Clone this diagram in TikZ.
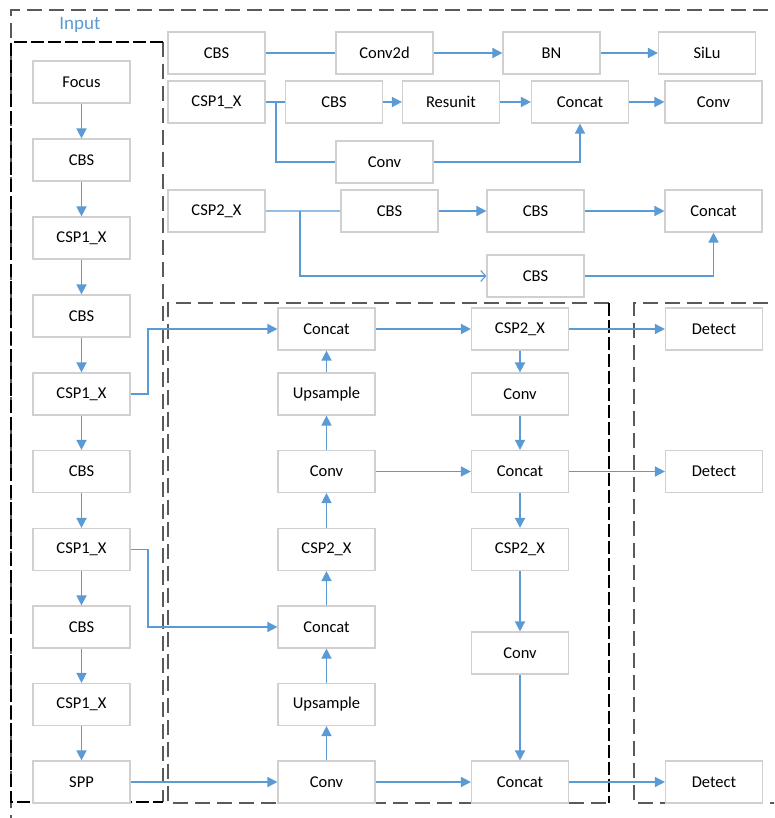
\documentclass[tikz,border=0pt]{standalone}
\usepackage{fontspec}
\setmainfont{Carlito}
\usetikzlibrary{arrows.meta}
\definecolor{ablue}{HTML}{5B9BD5}
\definecolor{bgray}{HTML}{D0D0D0}
\definecolor{fgray}{HTML}{5A5A5A}
\begin{document}
\begin{tikzpicture}[x=1pt,y=-1pt,
 blk/.style={draw=bgray,line width=1.2pt,fill=white,minimum width=97pt,minimum height=42pt,inner sep=0pt,font=\fontsize{16.5}{20}\selectfont},
 arr/.style={draw=ablue,line width=1.6pt,-{Triangle[length=10pt,width=10pt]}},
 ln/.style={draw=ablue,line width=1.6pt},
 lnlight/.style={draw=ablue!65,line width=1.1pt},
 fg/.style={draw=fgray,line width=1.3pt,dash pattern=on 15pt off 7pt},
 fk/.style={draw=black,line width=1.3pt,dash pattern=on 13pt off 4pt}]
\useasboundingbox (0,0) rectangle (774,818);
\clip (0,0) rectangle (774,818);
\fill[white] (0,0) rectangle (774,818);

% frames
\draw[fg] (11,830) -- (11,10) -- (790,10);
\draw[fg] (163,42) -- (163,802);
\draw[fk] (163,42) -- (11,42) -- (11,802) -- (163,802);
\draw[fg] (609,303) -- (168,303) -- (168,803) -- (609,803);
\draw[fk] (609,303) -- (609,803);
\draw[fg] (790,303) -- (634,303) -- (634,803) -- (790,803);

\node[text=ablue,font=\fontsize{19}{22}\selectfont] (inlab) at (80,25) {Input};

% backbone
\node[blk] (L1) at (81.5,82) {Focus};
\node[blk] (L2) at (81.5,160) {CBS};
\node[blk] (L3) at (81.5,238) {CSP1\_X};
\node[blk] (L4) at (81.5,316) {CBS};
\node[blk] (L5) at (81.5,394) {CSP1\_X};
\node[blk] (L6) at (81.5,471.5) {CBS};
\node[blk] (L7) at (81.5,549.5) {CSP1\_X};
\node[blk] (L8) at (81.5,627) {CBS};
\node[blk] (L9) at (81.5,704.5) {CSP1\_X};
\node[blk] (L10) at (81.5,782) {SPP};

% module definitions
\node[blk] (t1cbs) at (216.5,53) {CBS};
\node[blk] (t1conv) at (384.5,53) {Conv2d};
\node[blk] (t1bn) at (551.5,53) {BN};
\node[blk] (t1silu) at (707,53) {SiLu};

\node[blk] (t2csp) at (216.5,102) {CSP1\_X};
\node[blk] (t2cbs) at (334,102) {CBS};
\node[blk] (t2res) at (451,102) {Resunit};
\node[blk] (t2cat) at (580,102) {Concat};
\node[blk] (t2conv) at (713.5,102) {Conv};
\node[blk] (t2c2) at (384.5,162) {Conv};

\node[blk] (t3csp) at (216.5,211) {CSP2\_X};
\node[blk] (t3cbs1) at (389.5,211) {CBS};
\node[blk] (t3cbs2) at (535.5,211) {CBS};
\node[blk] (t3cat) at (713.5,211) {Concat};
\node[blk] (t3cbs3) at (535.5,276) {CBS};

% neck
\node[blk] (A1) at (326.5,329) {Concat};
\node[blk] (A2) at (326.5,394) {Upsample};
\node[blk] (A3) at (326.5,471.5) {Conv};
\node[blk] (A4) at (326.5,549.5) {CSP2\_X};
\node[blk] (A5) at (326.5,627) {Concat};
\node[blk] (A6) at (326.5,704.5) {Upsample};
\node[blk] (A7) at (326.5,782) {Conv};

\node[blk] (B1) at (520,329) {CSP2\_X};
\node[blk] (B2) at (520,394) {Conv};
\node[blk] (B3) at (520,471.5) {Concat};
\node[blk] (B4) at (520,549.5) {CSP2\_X};
\node[blk] (B5) at (520,653) {Conv};
\node[blk] (B6) at (520,782) {Concat};

% head
\node[blk] (D1) at (714,329) {Detect};
\node[blk] (D2) at (714,471.5) {Detect};
\node[blk] (D3) at (714,782) {Detect};

% backbone arrows
\foreach \a/\b in {L1/L2,L2/L3,L3/L4,L4/L5,L5/L6,L6/L7,L7/L8,L8/L9,L9/L10}
  \draw[arr] (\a) -- (\b);

% module connectors
\draw[ln] (t1cbs) -- (t1conv);
\draw[arr] (t1conv) -- (t1bn);
\draw[arr] (t1bn) -- (t1silu);

\draw[ln] (t2csp) -- (t2cbs);
\draw[arr] (t2cbs) -- (t2res);
\draw[arr] (t2res) -- (t2cat);
\draw[arr] (t2cat) -- (t2conv);
\coordinate (j2) at (276,102);
\draw[ln] (j2) |- (t2c2.west);
\draw[arr] (t2c2.east) -| (t2cat.south);

\draw[lnlight] (t3csp) -- (t3cbs1);
\draw[arr] (t3cbs1) -- (t3cbs2);
\draw[arr] (t3cbs2) -- (t3cat);
\coordinate (j3) at (300,211);
\draw[draw=ablue,line width=1.1pt,-{Straight Barb[length=5pt,width=11pt]}] (j3) |- (t3cbs3.west);
\draw[arr] (t3cbs3.east) -| (t3cat.south);

% backbone to neck
\coordinate (k1) at (148,394);
\coordinate (k2) at (148,549.5);
\draw[arr] (L5.east) -- (k1) |- (A1.west);
\draw[arr] (L7.east) -- (k2) |- (A5.west);
\draw[arr] (L10) -- (A7);

% neck
\foreach \a/\b in {A7/A6,A6/A5,A5/A4,A4/A3,A3/A2,A2/A1}
  \draw[arr] (\a) -- (\b);
\draw[arr] (A1) -- (B1);
\draw[arr] (A3) -- (B3);
\draw[arr] (A7) -- (B6);
\foreach \a/\b in {B1/B2,B2/B3,B3/B4,B4/B5,B5/B6}
  \draw[arr] (\a) -- (\b);

% head
\draw[arr] (B1) -- (D1);
\draw[arr] (B3) -- (D2);
\draw[arr] (B6) -- (D3);
\end{tikzpicture}
\end{document}
